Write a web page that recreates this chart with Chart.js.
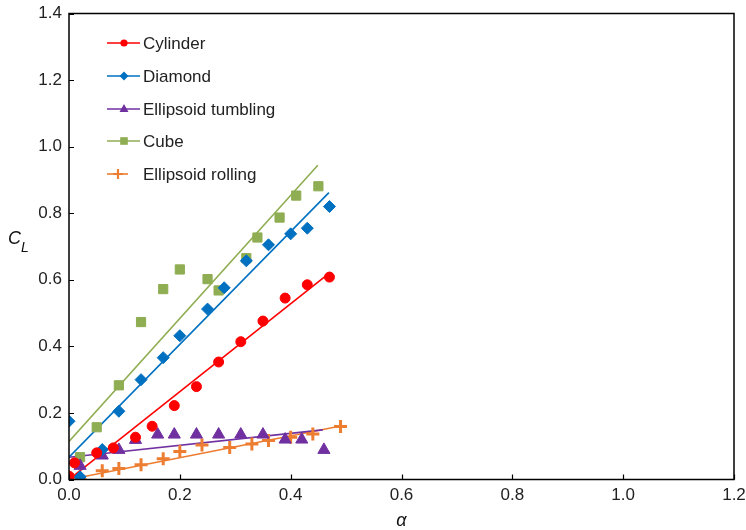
<!DOCTYPE html>
<html>
<head>
<meta charset="utf-8">
<script src="https://cdn.jsdelivr.net/npm/chart.js@4.4.1/dist/chart.umd.min.js"></script>
<style>
  body { margin: 0; background: #fff; }
  #wrap { width: 746px; height: 530px; }
</style>
</head>
<body>
<div id="wrap"><canvas id="chart" width="746" height="530"></canvas></div>
<script>
// measured points (alpha, C_L)
const cylAlpha = [0, 0.01, 0.05, 0.08, 0.12, 0.15, 0.19, 0.23, 0.27, 0.31, 0.35, 0.39, 0.43, 0.47];
const cylCL    = [0.01, 0.05, 0.08, 0.095, 0.127, 0.16, 0.222, 0.279, 0.353, 0.414, 0.476, 0.545, 0.585, 0.608];

const diaAlpha = [0, 0.02, 0.06, 0.09, 0.13, 0.17, 0.20, 0.25, 0.28, 0.32, 0.36, 0.40, 0.43, 0.47];
const diaCL    = [0.175, 0.008, 0.09, 0.205, 0.30, 0.366, 0.432, 0.512, 0.576, 0.657, 0.705, 0.738, 0.755, 0.82];

const tumAlpha = [0.02, 0.06, 0.09, 0.12, 0.16, 0.19, 0.23, 0.27, 0.31, 0.35, 0.39, 0.42, 0.46];
const tumCL    = [0.041, 0.072, 0.089, 0.119, 0.135, 0.135, 0.135, 0.135, 0.135, 0.135, 0.12, 0.12, 0.089];

const cubeAlpha = [0, 0.02, 0.05, 0.09, 0.13, 0.17, 0.20, 0.25, 0.27, 0.32, 0.34, 0.38, 0.41, 0.45];
const cubeCL    = [0.005, 0.067, 0.157, 0.283, 0.473, 0.572, 0.631, 0.602, 0.568, 0.665, 0.727, 0.787, 0.853, 0.881];

const rollAlpha = [0, 0.02, 0.06, 0.09, 0.13, 0.17, 0.20, 0.24, 0.29, 0.33, 0.36, 0.40, 0.44, 0.49];
const rollCL    = [0.004, 0.0, 0.026, 0.033, 0.044, 0.062, 0.084, 0.104, 0.096, 0.107, 0.117, 0.127, 0.137, 0.159];

// linear fits (end points)
const cylFitX = [0, 0.472],  cylFitY = [0, 0.623];
const diaFitX = [0, 0.469],  diaFitY = [0.067, 0.862];
const tumFitX = [0, 0.458],  tumFitY = [0.067, 0.149];
const cubeFitX = [0, 0.449], cubeFitY = [0.114, 0.944];
const rollFitX = [0, 0.488], rollFitY = [0, 0.16];

const xTicks = [0, 0.2, 0.4, 0.6, 0.8, 1.0, 1.2];
const yTicks = [0, 0.2, 0.4, 0.6, 0.8, 1.0, 1.2, 1.4];

const RED = "#ff0000", BLUE = "#0070c0", PURPLE = "#7030a0", GREEN = "#8fad52", ORANGE = "#ed7d31";
const FONT = "'Liberation Sans', Arial, sans-serif";

function pts(xs, ys) {
    return xs.map((x, i) => ({ x: x, y: ys[i] }));
}

function scatterSet(label, xs, ys, color, style, r, bw) {
    return {
        label: label,
        type: "scatter",
        data: pts(xs, ys),
        pointStyle: style,
        pointRadius: r,
        pointBackgroundColor: color,
        pointBorderColor: color,
        pointBorderWidth: bw,
        showLine: false,
        order: 0
    };
}

function fitSet(xs, ys, color) {
    return {
        label: "",
        type: "line",
        data: pts(xs, ys),
        borderColor: color,
        borderWidth: 1.6,
        pointRadius: 0,
        fill: false,
        order: 1
    };
}

const legendItems = [
    { text: "Cylinder", color: RED, style: "circle" },
    { text: "Diamond", color: BLUE, style: "rectRot" },
    { text: "Ellipsoid tumbling", color: PURPLE, style: "triangle" },
    { text: "Cube", color: GREEN, style: "rect" },
    { text: "Ellipsoid rolling", color: ORANGE, style: "cross" }
];

function drawMarker(ctx, style, x, y, color) {
    ctx.save();
    ctx.fillStyle = color;
    ctx.strokeStyle = color;
    ctx.beginPath();
    if (style === "circle") {
        ctx.arc(x, y, 3.6, 0, Math.PI * 2);
        ctx.fill();
    } else if (style === "rectRot") {
        ctx.moveTo(x, y - 4.5); ctx.lineTo(x + 4.5, y); ctx.lineTo(x, y + 4.5); ctx.lineTo(x - 4.5, y);
        ctx.closePath(); ctx.fill();
    } else if (style === "triangle") {
        ctx.moveTo(x, y - 5); ctx.lineTo(x + 4.5, y + 3); ctx.lineTo(x - 4.5, y + 3);
        ctx.closePath(); ctx.fill();
    } else if (style === "rect") {
        ctx.fillRect(x - 3.8, y - 3.8, 7.6, 7.6);
    } else if (style === "cross") {
        ctx.lineWidth = 2.2;
        ctx.moveTo(x - 5, y); ctx.lineTo(x + 5, y);
        ctx.moveTo(x, y - 5); ctx.lineTo(x, y + 5);
        ctx.stroke();
    }
    ctx.restore();
}

const framePlugin = {
    id: "frame",
    afterDraw(chart) {
        const ctx = chart.ctx;
        const a = chart.chartArea;
        const xs = chart.scales.x, ys = chart.scales.y;
        ctx.save();
        // box
        ctx.strokeStyle = "#000";
        ctx.lineWidth = 1.5;
        ctx.strokeRect(a.left, a.top, a.right - a.left, a.bottom - a.top);
        // inward ticks
        ctx.lineWidth = 1.2;
        ctx.beginPath();
        xTicks.forEach(v => {
            const px = Math.round(xs.getPixelForValue(v)) + 0.5;
            ctx.moveTo(px, a.bottom); ctx.lineTo(px, a.bottom - 5);
        });
        yTicks.forEach(v => {
            const py = Math.round(ys.getPixelForValue(v)) + 0.5;
            ctx.moveTo(a.left, py); ctx.lineTo(a.left + 5, py);
        });
        ctx.stroke();

        // axis titles
        ctx.fillStyle = "#111";
        ctx.textBaseline = "alphabetic";
        ctx.textAlign = "center";
        ctx.font = "italic 18px " + FONT;
        ctx.fillText("α", (a.left + a.right) / 2, 526);
        ctx.textAlign = "left";
        ctx.font = "italic 18px " + FONT;
        ctx.fillText("C", 8, 244);
        ctx.font = "italic 14px " + FONT;
        ctx.fillText("L", 21, 252);

        // legend
        ctx.font = "17px " + FONT;
        ctx.textBaseline = "middle";
        const ly = [43, 76, 109, 141, 174];
        legendItems.forEach((it, i) => {
            const y = ly[i];
            const x1 = 107, x2 = it.style === "cross" ? 128 : 140;
            ctx.strokeStyle = it.color;
            ctx.lineWidth = 1.6;
            ctx.beginPath();
            ctx.moveTo(x1, y); ctx.lineTo(x2, y);
            ctx.stroke();
            drawMarker(ctx, it.style, it.style === "cross" ? 118 : 124, y, it.color);
            ctx.fillStyle = "#222";
            ctx.fillText(it.text, 143, y + 1);
        });
        ctx.restore();
    }
};

new Chart(document.getElementById("chart"), {
    type: "scatter",
    data: {
        datasets: [
            scatterSet("Cylinder", cylAlpha, cylCL, RED, "circle", 5, 1),
            scatterSet("Diamond", diaAlpha, diaCL, BLUE, "rectRot", 6, 1),
            scatterSet("Ellipsoid tumbling", tumAlpha, tumCL, PURPLE, "triangle", 7, 1),
            scatterSet("Cube", cubeAlpha, cubeCL, GREEN, "rect", 6.5, 1),
            scatterSet("Ellipsoid rolling", rollAlpha, rollCL, ORANGE, "cross", 6.5, 3),
            fitSet(cylFitX, cylFitY, RED),
            fitSet(diaFitX, diaFitY, BLUE),
            fitSet(tumFitX, tumFitY, PURPLE),
            fitSet(cubeFitX, cubeFitY, GREEN),
            fitSet(rollFitX, rollFitY, ORANGE)
        ]
    },
    options: {
        responsive: false,
        animation: false,
        devicePixelRatio: 1,
        layout: { padding: { top: 13.5, right: 12, left: 0, bottom: 0 } },
        plugins: {
            legend: { display: false },
            tooltip: { enabled: false }
        },
        scales: {
            x: {
                type: "linear",
                min: 0, max: 1.2,
                afterFit(scale) {
                    scale.height = 50.5;
                    scale.paddingLeft = 0;
                    scale.paddingRight = 0;
                },
                afterBuildTicks(scale) { scale.ticks = xTicks.map(v => ({ value: v })); },
                grid: { display: false, drawTicks: false },
                border: { display: false },
                ticks: {
                    padding: 6,
                    color: "#222",
                    font: { family: FONT, size: 17 },
                    callback: v => v.toFixed(1)
                }
            },
            y: {
                type: "linear",
                min: 0, max: 1.4,
                afterFit(scale) {
                    scale.width = 69;
                    scale.paddingTop = 0;
                    scale.paddingBottom = 0;
                },
                afterBuildTicks(scale) { scale.ticks = yTicks.map(v => ({ value: v })); },
                grid: { display: false, drawTicks: false },
                border: { display: false },
                ticks: {
                    padding: 7,
                    color: "#222",
                    font: { family: FONT, size: 17 },
                    callback: v => v.toFixed(1)
                }
            }
        }
    },
    plugins: [framePlugin]
});
</script>
</body>
</html>
